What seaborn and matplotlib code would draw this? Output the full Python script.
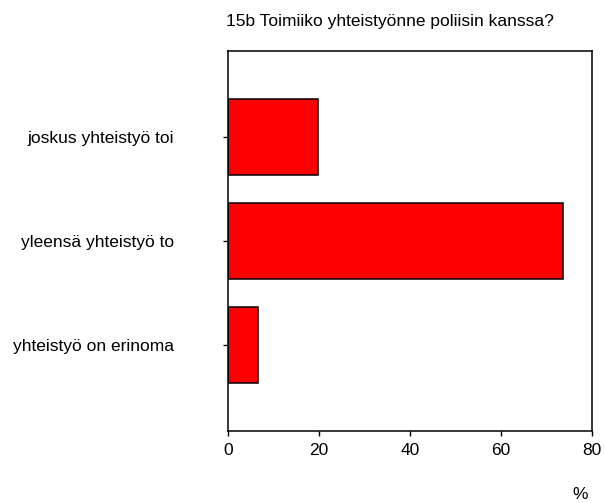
import matplotlib
matplotlib.use("Agg")
import matplotlib.pyplot as plt
import seaborn as sns
import pandas as pd

# data
categories = ["joskus yhteistyö toi", "yleensä yhteistyö to", "yhteistyö on erinoma"]
percent = [19.8, 73.6, 6.6]

df = pd.DataFrame({"vastaus": categories, "prosentti": percent})

sns.set_style("white")
plt.rcParams["font.family"] = ["Liberation Sans", "DejaVu Sans"]
plt.rcParams["text.color"] = "black"

fig = plt.figure(figsize=(6.04, 5.03), dpi=100)
ax = fig.add_axes([0.3775, 0.1431, 0.6025, 0.7555])

sns.barplot(data=df, x="prosentti", y="vastaus", orient="h", color="#ff0000",
            saturation=1, width=0.73, edgecolor="black", linewidth=1.1, ax=ax)

ax.set_xlim(0, 80)
ax.set_ylim(2.83, -0.83)
ax.set_xticks([0, 20, 40, 60, 80])
ax.tick_params(axis="both", left=True, bottom=True, direction="out", length=3.6,
               width=1, color="black", labelsize=12.5, labelcolor="black")
ax.tick_params(axis="y", pad=35)
ax.tick_params(axis="x", pad=5)

for s in ax.spines.values():
    s.set_visible(True)
    s.set_color("black")
    s.set_linewidth(1.1)

ax.set_ylabel("")
ax.set_xlabel("")
fig.text(0.96, 0.016, "%", fontsize=12.5, ha="center", va="center")
fig.text(0.374, 0.957, "15b Toimiiko yhteistyönne poliisin kanssa?", fontsize=12.5,
         ha="left", va="center")

fig.savefig("out.png", dpi=100)
